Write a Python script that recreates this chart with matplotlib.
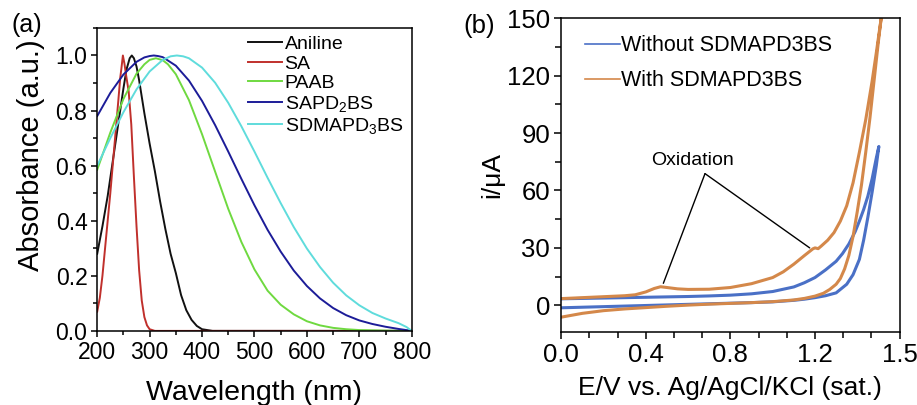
import matplotlib.pyplot as plt
from matplotlib.ticker import MultipleLocator, FixedLocator, FixedFormatter

plt.rcParams['font.family'] = ['Liberation Sans', 'DejaVu Sans']
plt.rcParams['mathtext.fontset'] = 'custom'
plt.rcParams['mathtext.rm'] = 'Liberation Sans'
plt.rcParams['mathtext.it'] = 'Liberation Sans'

# (a) UV-vis spectra
aniline_nm = [200, 210, 220, 230, 240, 250, 256, 262, 266, 270, 275, 280, 290, 300, 310,
              320, 330, 340, 350, 360, 370, 380, 390, 400, 420, 800]
aniline_abs = [0.28, 0.38, 0.49, 0.62, 0.75, 0.88, 0.95, 0.99, 1.0, 0.99, 0.96, 0.91,
               0.79, 0.68, 0.58, 0.47, 0.37, 0.28, 0.21, 0.13, 0.075, 0.04, 0.018,
               0.006, 0.0, 0.0]

sa_nm = [200, 205, 210, 215, 220, 225, 230, 235, 240, 244, 246, 249, 252, 255, 260,
         265, 270, 275, 280, 285, 290, 295, 300, 310, 800]
sa_abs = [0.07, 0.12, 0.2, 0.3, 0.4, 0.5, 0.61, 0.72, 0.83, 0.92, 0.95, 1.0, 0.97,
          0.93, 0.87, 0.75, 0.56, 0.38, 0.22, 0.11, 0.05, 0.02, 0.006, 0.0, 0.0]

paab_nm = [200, 225, 250, 275, 290, 300, 312, 325, 335, 350, 375, 400, 425, 450, 475,
           500, 525, 550, 575, 600, 625, 650, 675, 700, 750, 800]
paab_abs = [0.585, 0.72, 0.842, 0.934, 0.968, 0.984, 0.99, 0.983, 0.968, 0.932, 0.838,
            0.714, 0.578, 0.443, 0.323, 0.223, 0.146, 0.095, 0.06, 0.035, 0.02, 0.011,
            0.006, 0.003, 0.001, 0.0]

sapd_nm = [200, 225, 250, 275, 290, 300, 308, 316, 325, 350, 375, 400, 425, 450, 475,
           500, 525, 550, 575, 600, 625, 650, 675, 700, 725, 750, 775, 800]
sapd_abs = [0.78, 0.864, 0.931, 0.977, 0.993, 0.998, 1.0, 0.998, 0.994, 0.963, 0.909,
            0.835, 0.747, 0.651, 0.552, 0.456, 0.367, 0.288, 0.219, 0.163, 0.118, 0.083,
            0.057, 0.038, 0.025, 0.015, 0.007, 0.0]

sdma_nm = [200, 225, 250, 275, 300, 325, 340, 352, 364, 375, 400, 425, 450, 475, 500,
           525, 550, 575, 600, 625, 650, 675, 700, 725, 750, 775, 790, 800]
sdma_abs = [0.6, 0.7, 0.794, 0.877, 0.942, 0.984, 0.997, 1.0, 0.997, 0.99, 0.956, 0.901,
            0.828, 0.743, 0.651, 0.556, 0.464, 0.377, 0.299, 0.232, 0.175, 0.129, 0.093,
            0.065, 0.045, 0.028, 0.014, 0.0]

spectra = [
    (aniline_nm, aniline_abs, 'Aniline', '#111111'),
    (sa_nm, sa_abs, 'SA', '#c0302c'),
    (paab_nm, paab_abs, 'PAAB', '#6fd940'),
    (sapd_nm, sapd_abs, 'SAPD$_2$BS', '#1c1c98'),
    (sdma_nm, sdma_abs, 'SDMAPD$_3$BS', '#5fdcdc'),
]

# (b) CV curves, each a closed scan 0 -> 1.5 V -> 0
without_E = [0.0, 0.1, 0.2, 0.3, 0.4, 0.5, 0.6, 0.7, 0.8, 0.9, 1.0, 1.1, 1.15, 1.2, 1.25,
             1.3, 1.35, 1.38, 1.41, 1.43, 1.45, 1.47, 1.49, 1.502,
             1.49, 1.47, 1.45, 1.43, 1.41, 1.39, 1.36, 1.33, 1.3, 1.25, 1.2, 1.15, 1.1,
             1.0, 0.9, 0.8, 0.7, 0.6, 0.5, 0.4, 0.3, 0.2, 0.1, 0.0]
without_I = [-1.3, -1.0, -0.7, -0.4, -0.1, 0.2, 0.5, 0.8, 1.1, 1.4, 1.8, 2.6, 3.2, 4.0, 5.0,
             6.5, 11, 16, 24, 34, 46, 59, 73, 83,
             77, 66, 57, 50, 44, 38.5, 32, 27, 23, 18.5, 14.5, 11.8, 9.6,
             7.2, 6.0, 5.3, 4.9, 4.6, 4.4, 4.2, 4.0, 3.8, 3.6, 3.4]

with_E = [0.0, 0.05, 0.1, 0.2, 0.3, 0.4, 0.5, 0.6, 0.7, 0.8, 0.9, 1.0, 1.1, 1.15, 1.2,
          1.24, 1.27, 1.3, 1.32, 1.34, 1.36, 1.38, 1.40, 1.42, 1.44, 1.46, 1.48, 1.50, 1.513,
          1.49, 1.47, 1.44, 1.41, 1.38, 1.35, 1.32, 1.29, 1.26, 1.23, 1.215, 1.2, 1.19,
          1.15, 1.1, 1.05, 1.0, 0.9, 0.8, 0.7, 0.6, 0.55, 0.5, 0.47, 0.44, 0.4, 0.35,
          0.3, 0.2, 0.1, 0.0]
with_I = [-6.2, -5.2, -4.2, -2.8, -1.9, -1.2, -0.5, 0.1, 0.6, 1.0, 1.4, 1.9, 2.8, 3.6, 4.8,
          6.3, 8.3, 11, 14, 19, 26, 36, 49, 63, 80, 98, 118, 138, 150,
          132, 117, 97, 80, 64, 52, 44, 38, 34, 31, 29.6, 30, 29.5,
          26, 21.5, 17.5, 14.5, 11.3, 9.3, 8.4, 8.3, 8.6, 9.3, 9.7, 8.8, 7.0, 5.5,
          5.0, 4.5, 4.0, 3.5]

cv_xticks = [0.0, 0.4, 0.8, 1.2, 1.6]
cv_xticklabels = ['0.0', '0.4', '0.8', '1.2', '1.5']

fig = plt.figure(figsize=(9.17, 4.05), dpi=100)

# ---------- panel (a) ----------
ax1 = fig.add_axes([0.106, 0.183, 0.343, 0.748])
for x, y, lab, c in spectra:
    ax1.plot(x, y, color=c, lw=1.4, label=lab)
ax1.set_xlim(200, 800)
ax1.set_ylim(0, 1.1)
ax1.xaxis.set_major_locator(MultipleLocator(100))
ax1.xaxis.set_minor_locator(MultipleLocator(50))
ax1.yaxis.set_major_locator(FixedLocator([0, 0.2, 0.4, 0.6, 0.8, 1.0]))
ax1.yaxis.set_minor_locator(MultipleLocator(0.1))
ax1.yaxis.set_major_formatter(FixedFormatter(['0.0', '0.2', '0.4', '0.6', '0.8', '1.0']))
ax1.tick_params(which='both', direction='out', labelsize=16.5, width=1.1, pad=3)
ax1.tick_params(which='major', length=4)
ax1.tick_params(which='minor', length=3)
ax1.set_xlabel('Wavelength (nm)', fontsize=20.5, labelpad=12)
ax1.set_ylabel('Absorbance (a.u.)', fontsize=21)
ax1.yaxis.set_label_coords(-0.165, 0.58)
for s in ax1.spines.values():
    s.set_linewidth(1.1)
ax1.legend(loc='upper left', bbox_to_anchor=(0.48, 0.975), frameon=False, fontsize=14,
           handlelength=1.75, handletextpad=0.12, labelspacing=0.1, borderpad=0,
           borderaxespad=0)
fig.text(0.012, 0.92, '(a)', fontsize=18)

# ---------- panel (b) ----------
ax2 = fig.add_axes([0.612, 0.180, 0.369, 0.775])
ax2.plot(without_E, without_I, color='#4a70c6', lw=2.2, label='Without SDMAPD3BS')
ax2.plot(with_E, with_I, color='#d4884a', lw=2.2, label='With SDMAPD3BS')
ax2.set_xlim(0, 1.6)
ax2.set_ylim(-14, 150)
ax2.xaxis.set_major_locator(FixedLocator(cv_xticks))
ax2.xaxis.set_major_formatter(FixedFormatter(cv_xticklabels))
ax2.xaxis.set_minor_locator(MultipleLocator(0.4 / 3))
ax2.yaxis.set_major_locator(MultipleLocator(30))
ax2.yaxis.set_minor_locator(MultipleLocator(15))
ax2.tick_params(which='both', direction='out', labelsize=18.5, width=1.1, pad=3)
ax2.tick_params(which='major', length=5)
ax2.tick_params(which='minor', length=4)
ax2.set_xlabel('E/V vs. Ag/AgCl/KCl (sat.)', fontsize=19, labelpad=6)
ax2.set_ylabel('i/μA', fontsize=19, labelpad=2)
for s in ax2.spines.values():
    s.set_linewidth(1.1)
leg = ax2.legend(loc='upper left', bbox_to_anchor=(0.071, 0.945), frameon=False,
                 fontsize=15.5, handlelength=1.6, handletextpad=0.08, labelspacing=0.65,
                 borderpad=0, borderaxespad=0)
for h in leg.get_lines():
    h.set_linewidth(1.2)

# oxidation pointers
for tip in [(0.483, 11.5), (1.175, 30.0)]:
    ax2.annotate('', xy=tip, xytext=(0.68, 68.8),
                 arrowprops=dict(arrowstyle='-', color='black', lw=1.0,
                                 shrinkA=0, shrinkB=0))
ax2.text(0.623, 75.5, 'Oxidation', fontsize=14, ha='center', va='center')
fig.text(0.505, 0.918, '(b)', fontsize=18.5)

fig.savefig('out.png', dpi=100)
